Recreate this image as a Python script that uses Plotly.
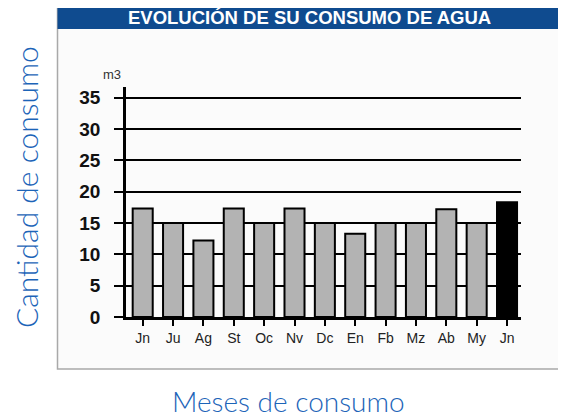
import plotly.graph_objects as go

months = ["Jn", "Ju", "Ag", "St", "Oc", "Nv", "Dc", "En", "Fb", "Mz", "Ab", "My", "Jn"]
consumo = [17.3, 15, 12.2, 17.3, 15, 17.3, 15, 13.3, 15, 15, 17.2, 15, 18.3]
bar_colors = ["#b3b3b3"] * 12 + ["#000000"]
y_ticks = [0, 5, 10, 15, 20, 25, 30, 35]

W, H = 566, 417
OFF = 8  # page body margin offset
# target screen positions of the plot area
PL, PR, PT, PB = 126, 521, 87, 317
L, T = PL - OFF, PT - OFF
R = W - (PR - OFF)
B = H - (PB - OFF)
PW, PH = W - L - R, H - T - B


def px(x):
    return (x - OFF - L) / PW


def py(y):
    return (H - B - (y - OFF)) / PH


fig = go.Figure()
fig.add_trace(go.Bar(
    x=list(range(len(months))),
    y=consumo,
    width=0.66,
    marker=dict(color=bar_colors, line=dict(color="#000000", width=2)),
    hoverinfo="skip",
))

shapes = [
    dict(type="rect", xref="paper", yref="paper", x0=px(57.5), x1=px(580), y0=py(369), y1=py(5),
         fillcolor="#fbfbfb", line=dict(color="#a9a9a9", width=1.5), layer="below"),
    dict(type="rect", xref="paper", yref="paper", x0=px(57.5), x1=px(580), y0=py(29), y1=py(5),
         fillcolor="#0f4b8f", line=dict(width=0), layer="below"),
]

annotations = [
    dict(text="EVOLUCIÓN DE SU CONSUMO DE AGUA", xref="paper", yref="paper", x=px(309), y=py(17),
         showarrow=False, font=dict(family="Liberation Sans", size=18.5, color="#ffffff", weight="bold"),
         xanchor="center", yanchor="middle"),
    dict(text="m3", xref="paper", yref="paper", x=px(112), y=py(74), showarrow=False,
         font=dict(family="Liberation Sans", size=13, color="#333333"), xanchor="center", yanchor="middle"),
    dict(text="Meses de consumo", xref="paper", yref="paper", x=px(288), y=py(401), showarrow=False,
         font=dict(family="Lato", size=28, color="#1c64b8", weight=300), xanchor="center", yanchor="middle"),
    dict(text="Cantidad de consumo", xref="paper", yref="paper", x=px(26), y=py(187), showarrow=False,
         textangle=-90,
         font=dict(family="Lato", size=30, color="#1c64b8", weight=300), xanchor="center", yanchor="middle"),
]

fig.update_layout(
    width=W, height=H,
    margin=dict(l=L, r=R, t=T, b=B, pad=0),
    paper_bgcolor="#ffffff",
    plot_bgcolor="rgba(0,0,0,0)",
    showlegend=False,
    bargap=0.34,
    shapes=shapes,
    annotations=annotations,
    xaxis=dict(
        range=[-0.55, 12.46],
        tickmode="array", tickvals=list(range(len(months))), ticktext=months,
        showgrid=False, zeroline=False,
        showline=True, linecolor="#000000", linewidth=2.5,
        ticks="outside", ticklen=6, tickwidth=1.5, tickcolor="#000000",
        tickfont=dict(family="Liberation Sans", size=14, color="#222222"),
        fixedrange=True,
    ),
    yaxis=dict(
        range=[0, 36.7],
        tickmode="array", tickvals=y_ticks,
        showgrid=True, gridcolor="#000000", gridwidth=2,
        zeroline=False,
        showline=True, linecolor="#000000", linewidth=2.5,
        ticks="outside", ticklen=9, tickwidth=2, tickcolor="#000000",
        tickfont=dict(family="Liberation Sans", size=19, color="#111111", weight="bold"),
        ticklabelstandoff=10,
        fixedrange=True,
    ),
)

fig.write_html("out.html")
